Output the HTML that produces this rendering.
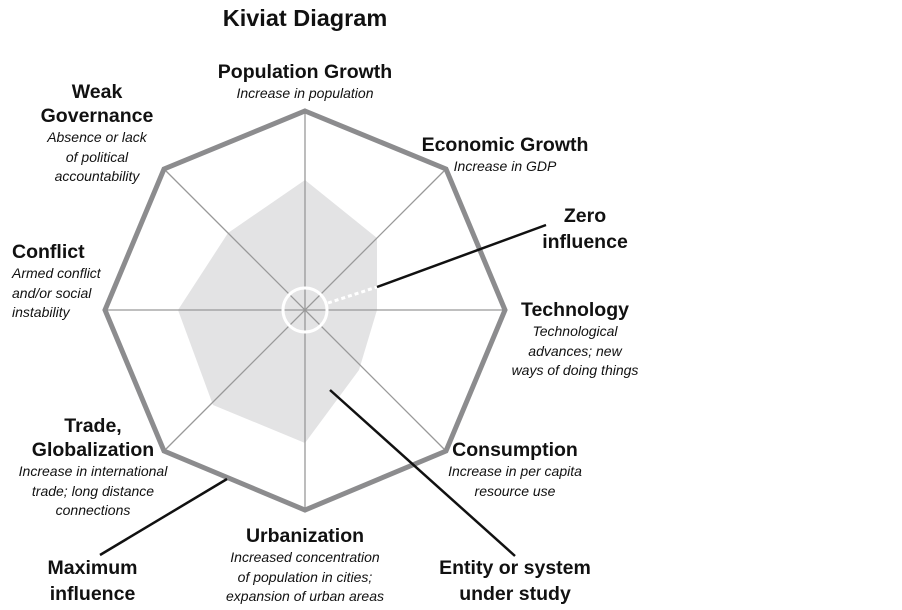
<!DOCTYPE html>
<html><head><style>
body{margin:0;width:902px;height:610px;background:#fff;overflow:hidden;font-family:"Liberation Sans",sans-serif;}
.t{position:absolute;text-align:center;color:#111;white-space:nowrap}
.b{font-weight:bold;font-size:19.5px;line-height:24px}
.i{font-style:italic;font-size:14px;line-height:19.5px}
</style></head><body>
<svg width="902" height="610" style="position:absolute;left:0;top:0">
<polygon points="305,180 377,238 377,310 359,370 305,443 213,405 178,310 228,233" fill="#e3e3e4"/>
<g stroke="#999" stroke-width="1.3">
<line x1="305" y1="111" x2="305" y2="510"/>
<line x1="105" y1="310" x2="505" y2="310"/>
<line x1="164" y1="169" x2="446" y2="451"/>
<line x1="446" y1="169" x2="164" y2="451"/>
</g>
<polygon points="305,111 446,169 505,310 446,451 305,510 164,451 105,310 164,169" fill="none" stroke="#8c8c8e" stroke-width="5" stroke-linejoin="miter"/>
<circle cx="305" cy="310" r="22" fill="none" stroke="#fff" stroke-width="3"/>
<line x1="328" y1="303" x2="377" y2="287" stroke="#fff" stroke-width="3" stroke-dasharray="4,3"/>
<line x1="377" y1="287" x2="546" y2="225" stroke="#111" stroke-width="2.5"/>
<line x1="330" y1="390" x2="515" y2="556" stroke="#111" stroke-width="2.5"/>
<line x1="227" y1="479" x2="100" y2="555" stroke="#111" stroke-width="2.5"/>
</svg>
<div class="t" style="left:195px;top:3px;width:220px;font-weight:bold;font-size:23.5px;line-height:30px">Kiviat Diagram</div>
<div class="t" style="left:195px;top:60px;width:220px"><div class="b">Population Growth</div><div class="i">Increase in population</div></div>
<div class="t" style="left:410px;top:133px;width:190px"><div class="b">Economic Growth</div><div class="i">Increase in GDP</div></div>
<div class="t" style="left:530px;top:203px;width:110px"><div class="b" style="line-height:26px">Zero<br>influence</div></div>
<div class="t" style="left:490px;top:298px;width:170px"><div class="b">Technology</div><div class="i">Technological<br>advances; new<br>ways of doing things</div></div>
<div class="t" style="left:430px;top:438px;width:170px"><div class="b">Consumption</div><div class="i">Increase in per capita<br>resource use</div></div>
<div class="t" style="left:195px;top:524px;width:220px"><div class="b">Urbanization</div><div class="i">Increased concentration<br>of population in cities;<br>expansion of urban areas</div></div>
<div class="t" style="left:410px;top:555px;width:210px"><div class="b" style="line-height:26px">Entity or system<br>under study</div></div>
<div class="t" style="left:20px;top:555px;width:145px"><div class="b" style="line-height:26px">Maximum<br>influence</div></div>
<div class="t" style="left:0px;top:414px;width:186px"><div class="b">Trade,<br>Globalization</div><div class="i">Increase in international<br>trade;  long distance<br>connections</div></div>
<div class="t" style="left:0px;top:240px;width:110px;text-align:left;padding-left:12px"><div class="b">Conflict</div><div class="i">Armed conflict<br>and/or social<br>instability</div></div>
<div class="t" style="left:17px;top:80px;width:160px"><div class="b">Weak<br>Governance</div><div class="i">Absence or lack<br>of political<br>accountability</div></div>
</body></html>
